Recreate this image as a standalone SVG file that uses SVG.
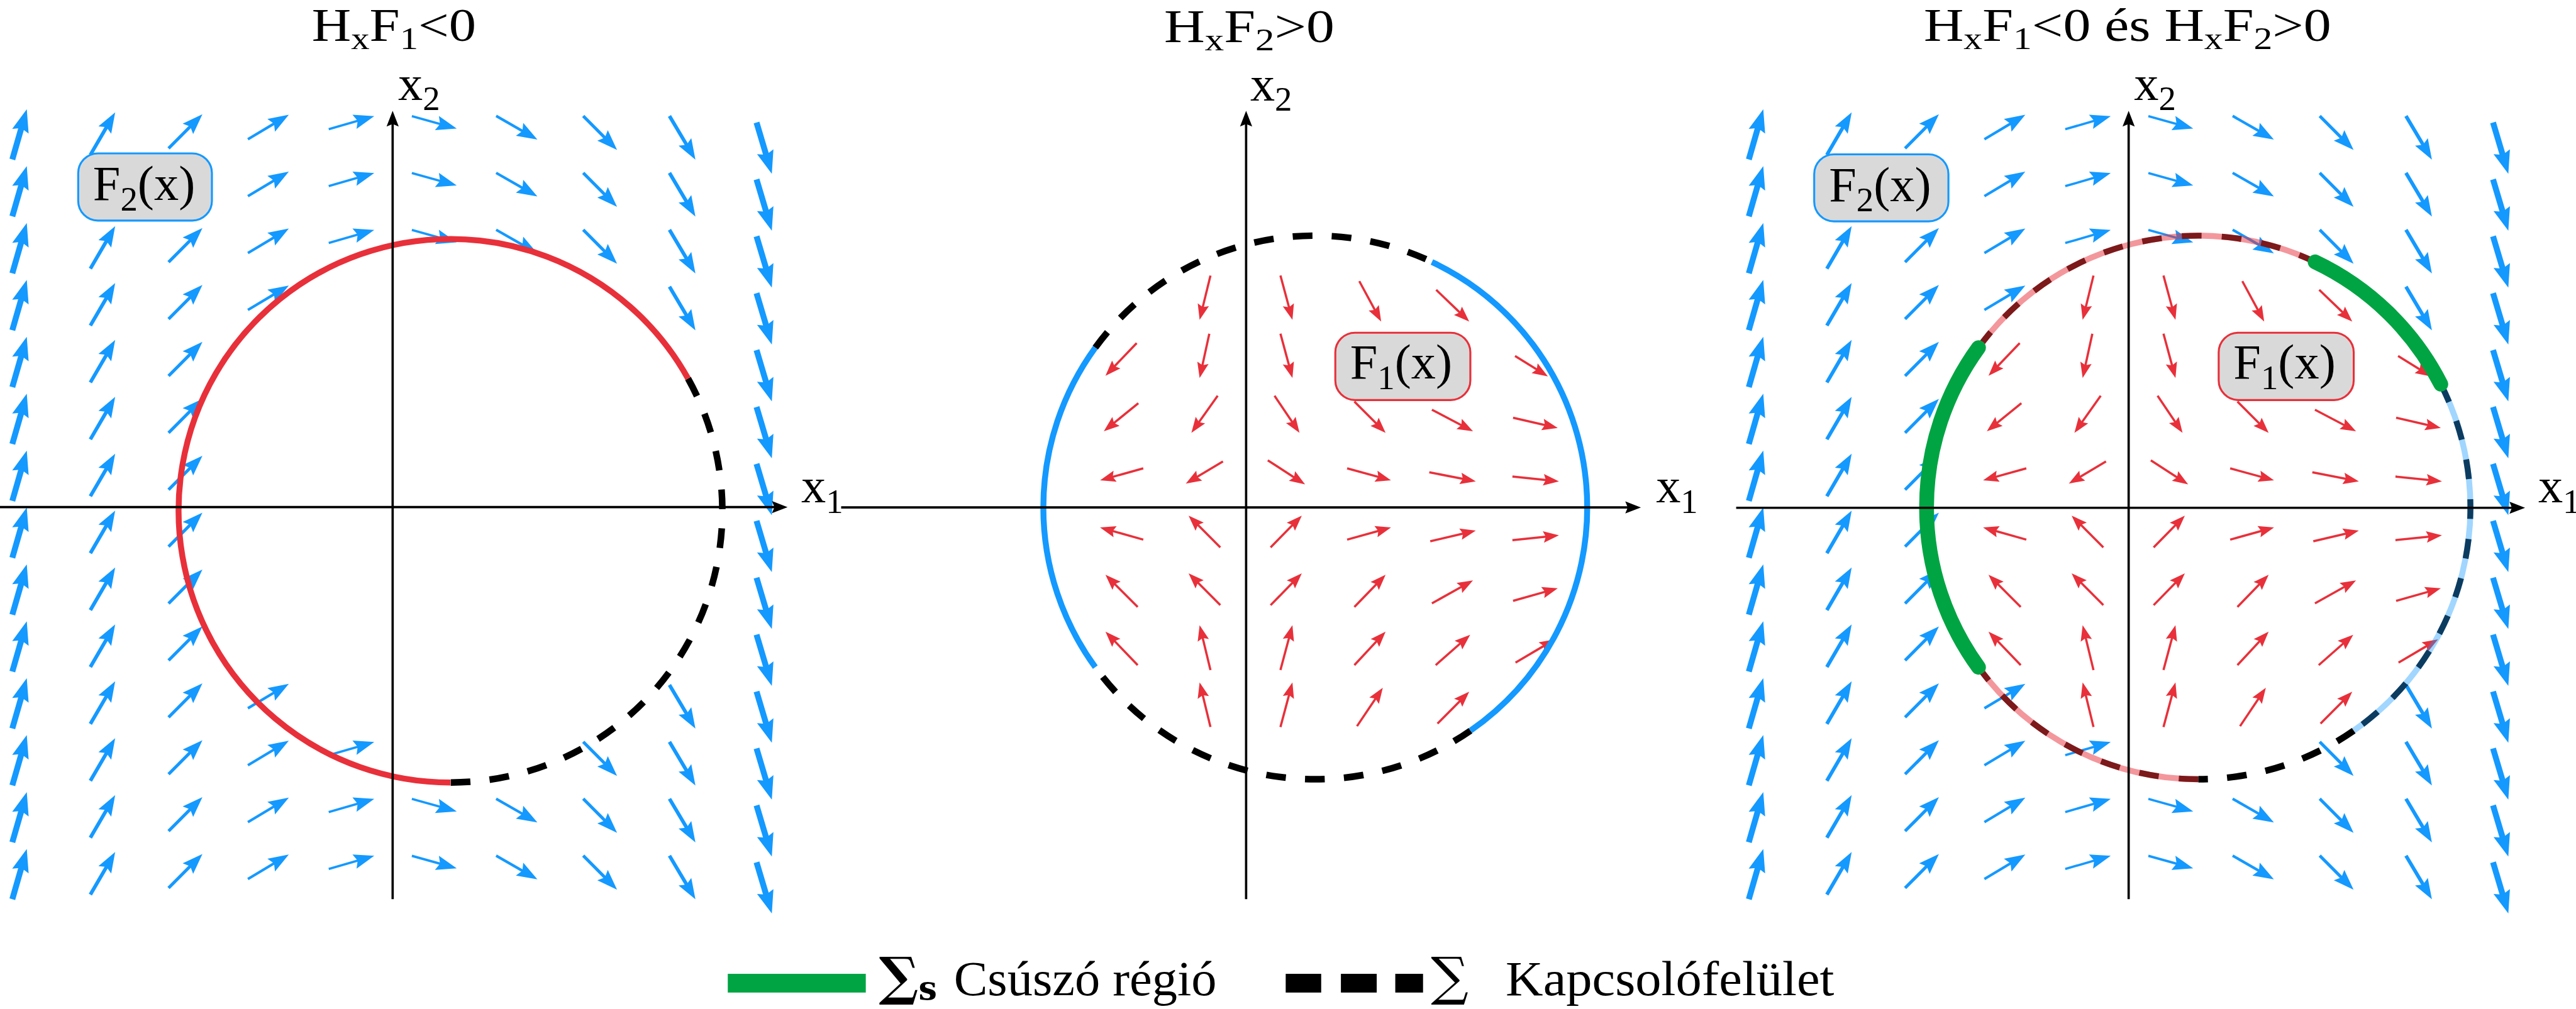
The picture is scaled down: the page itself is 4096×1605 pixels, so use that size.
<svg xmlns="http://www.w3.org/2000/svg" xmlns:xlink="http://www.w3.org/1999/xlink" width="4096" height="1605" viewBox="0 0 4096 1605">
<style>
text{font-family:"Liberation Serif","Times New Roman",serif;font-size:30px;fill:#000}
.sub{font-size:21px}
.ttl{font-size:28px}
.tsub{font-size:19px}
.bl{fill:none;stroke:#1499ff;stroke-dasharray:73 100}
.w1{stroke-width:3.6;marker-end:url(#mbL)}
.w2{stroke-width:2.2;marker-end:url(#mb)}
.w3{stroke-width:1.9;marker-end:url(#mb)}
.w4{stroke-width:1.6;marker-end:url(#mb)}
.w5{stroke-width:1.4;marker-end:url(#mb)}
.rd{fill:none;stroke:#e8303a;stroke-width:1.35;stroke-dasharray:78 100;marker-end:url(#mr)}
.ax{fill:none;stroke:#000;stroke-width:1.4;marker-end:url(#ma)}
.dash{fill:none;stroke:#000;stroke-width:4;stroke-dasharray:12 11.7}
.redarc{fill:none;stroke:#e8303a;stroke-width:3.6}
.bluearc{fill:none;stroke:#1499ff;stroke-width:3.6}
.pink{fill:none;stroke:#e8303a;stroke-opacity:0.5;stroke-width:3.6}
.maroon{fill:none;stroke:#7b191b;stroke-width:3.6;stroke-dasharray:12 12.3}
.lblue{fill:none;stroke:#1499ff;stroke-opacity:0.4;stroke-width:3.6}
.navy{fill:none;stroke:#0c3b60;stroke-width:3.6;stroke-dasharray:12 12.3}
.green{fill:none;stroke:#00a443;stroke-width:9;stroke-linecap:round}
.boxb{fill:#d9d9d9;stroke:#1499ff;stroke-width:1.2}
.boxr{fill:#d9d9d9;stroke:#e8303a;stroke-width:1.2}
.sig{font-family:"DejaVu Serif",serif;font-size:32px}
</style>
<defs>
<marker id="mb" markerUnits="userSpaceOnUse" orient="auto" markerWidth="1" markerHeight="1" refX="0" refY="0" overflow="visible"><path d="M0,0L-12.5,-4.5L-10.5,0L-12.5,4.5Z" fill="#1499ff"/></marker>
<marker id="mbL" markerUnits="userSpaceOnUse" orient="auto" markerWidth="1" markerHeight="1" refX="0" refY="0" overflow="visible"><path d="M0,0L-14,-5.2L-12,0L-14,5.2Z" fill="#1499ff"/></marker>
<marker id="mr" markerUnits="userSpaceOnUse" orient="auto" markerWidth="1" markerHeight="1" refX="0" refY="0" overflow="visible"><path d="M0,0L-9.5,-3.5L-8,0L-9.5,3.5Z" fill="#e8303a"/></marker>
<marker id="ma" markerUnits="userSpaceOnUse" orient="auto" markerWidth="1" markerHeight="1" refX="0" refY="0" overflow="visible"><path d="M5,0L-4.5,-3.7L-3,0L-4.5,3.7Z" fill="#000"/></marker>
</defs>
<rect width="4096" height="1605" fill="#fff"/>
<g transform="scale(2.612245)">
<!-- blue vector field F2 -->
<g id="bluef">
<path id="b1" class="bl w1" pathLength="100" d="M7.5,97.1L16.3,66.5"/>
<use href="#b1" y="34.65"/><use href="#b1" y="69.3"/><use href="#b1" y="103.95"/><use href="#b1" y="138.6"/><use href="#b1" y="173.25"/><use href="#b1" y="207.9"/><use href="#b1" y="242.55"/><use href="#b1" y="277.2"/><use href="#b1" y="311.85"/><use href="#b1" y="346.5"/><use href="#b1" y="381.15"/><use href="#b1" y="415.8"/><use href="#b1" y="450.45"/>
<path id="b2" class="bl w2" pathLength="100" d="M55,94.3L70.1,68.4"/>
<use href="#b2" y="34.65"/><use href="#b2" y="69.3"/><use href="#b2" y="103.95"/><use href="#b2" y="138.6"/><use href="#b2" y="173.25"/><use href="#b2" y="207.9"/><use href="#b2" y="242.55"/><use href="#b2" y="277.2"/><use href="#b2" y="311.85"/><use href="#b2" y="346.5"/><use href="#b2" y="381.15"/><use href="#b2" y="415.8"/><use href="#b2" y="450.45"/>
<path id="b3" class="bl w3" pathLength="100" d="M102.6,90.3L123.2,69.6"/>
<use href="#b3" y="34.65"/><use href="#b3" y="69.3"/><use href="#b3" y="103.95"/><use href="#b3" y="138.6"/><use href="#b3" y="173.25"/><use href="#b3" y="207.9"/><use href="#b3" y="242.55"/><use href="#b3" y="277.2"/><use href="#b3" y="311.85"/><use href="#b3" y="346.5"/><use href="#b3" y="381.15"/><use href="#b3" y="415.8"/><use href="#b3" y="450.45"/>
<path id="b4" class="bl w4" pathLength="100" d="M150.9,84.8L175.8,69.9"/>
<use href="#b4" y="34.65"/><use href="#b4" y="69.3"/><use href="#b4" y="103.95"/><use href="#b4" y="346.5"/><use href="#b4" y="381.15"/><use href="#b4" y="415.8"/><use href="#b4" y="450.45"/>
<path id="b5" class="bl w5" pathLength="100" d="M200.1,78.7L227.8,70.7"/>
<use href="#b5" y="34.65"/><use href="#b5" y="69.3"/><use href="#b5" y="381.15"/><use href="#b5" y="415.8"/><use href="#b5" y="450.45"/>
<path id="b6" class="bl w5" pathLength="100" d="M250.7,70.7L278,78.3"/>
<use href="#b6" y="34.65"/><use href="#b6" y="69.3"/><use href="#b6" y="415.8"/><use href="#b6" y="450.45"/>
<path id="b7" class="bl w4" pathLength="100" d="M302,70.6L327.1,85"/>
<use href="#b7" y="34.65"/><use href="#b7" y="69.3"/><use href="#b7" y="415.8"/><use href="#b7" y="450.45"/>
<path id="b8" class="bl w3" pathLength="100" d="M355,70.6L375.6,91.3"/>
<use href="#b8" y="34.65"/><use href="#b8" y="69.3"/><use href="#b8" y="381.15"/><use href="#b8" y="415.8"/><use href="#b8" y="450.45"/>
<path id="b9" class="bl w2" pathLength="100" d="M407.5,70.6L423.3,97.2"/>
<use href="#b9" y="34.65"/><use href="#b9" y="69.3"/><use href="#b9" y="103.95"/><use href="#b9" y="346.5"/><use href="#b9" y="381.15"/><use href="#b9" y="415.8"/><use href="#b9" y="450.45"/>
<path id="b10" class="bl w1" pathLength="100" d="M460.5,74.6L469.8,105.8"/>
<use href="#b10" y="34.65"/><use href="#b10" y="69.3"/><use href="#b10" y="103.95"/><use href="#b10" y="138.6"/><use href="#b10" y="173.25"/><use href="#b10" y="207.9"/><use href="#b10" y="242.55"/><use href="#b10" y="277.2"/><use href="#b10" y="311.85"/><use href="#b10" y="346.5"/><use href="#b10" y="381.15"/><use href="#b10" y="415.8"/><use href="#b10" y="450.45"/>
</g>
<use href="#bluef" x="1057"/>
<!-- red vector field F1 -->
<g id="redf">
<path class="rd" pathLength="100" d="M736.8,167.8L730.2,194.8"/>
<path class="rd" pathLength="100" d="M779.4,167.8L786.7,194.8"/>
<path class="rd" pathLength="100" d="M827.4,171.2L840.7,195.8"/>
<path class="rd" pathLength="100" d="M874.2,176.5L894.3,195.8"/>
<path class="rd" pathLength="100" d="M691.9,208.9L672.9,228.8"/>
<path class="rd" pathLength="100" d="M736.1,203.2L730.2,230.2"/>
<path class="rd" pathLength="100" d="M779.4,203.2L786.7,230.2"/>
<path class="rd" pathLength="100" d="M922.2,216.8L942.2,229.2"/>
<path class="rd" pathLength="100" d="M692.9,245.5L671.9,262.6"/>
<path class="rd" pathLength="100" d="M741.2,241L725.2,263.6"/>
<path class="rd" pathLength="100" d="M775.8,241L791,263.6"/>
<path class="rd" pathLength="100" d="M824.4,244.5L843.4,263.6"/>
<path class="rd" pathLength="100" d="M871.6,249.5L896.6,262.6"/>
<path class="rd" pathLength="100" d="M921,254.4L948.2,260.6"/>
<path class="rd" pathLength="100" d="M695.9,285.2L669.6,292.5"/>
<path class="rd" pathLength="100" d="M744.4,281L721.8,294.5"/>
<path class="rd" pathLength="100" d="M771.7,280.3L794.4,295"/>
<path class="rd" pathLength="100" d="M820,285.2L846.7,292.5"/>
<path class="rd" pathLength="100" d="M870,287.6L898.3,293.1"/>
<path class="rd" pathLength="100" d="M920.6,290.2L948.9,293.1"/>
<path class="rd" pathLength="100" d="M695.9,328.6L669.6,321.2"/>
<path class="rd" pathLength="100" d="M742.8,333.3L723.5,314"/>
<path class="rd" pathLength="100" d="M773.4,333.3L792.4,314"/>
<path class="rd" pathLength="100" d="M820,328.6L846.7,321.2"/>
<path class="rd" pathLength="100" d="M870.6,329.6L898.3,323.1"/>
<path class="rd" pathLength="100" d="M920.6,328.9L948.9,326"/>
<path class="rd" pathLength="100" d="M692.5,369.6L672.9,350"/>
<path class="rd" pathLength="100" d="M742.8,368.5L723.5,349.1"/>
<path class="rd" pathLength="100" d="M773.4,368.5L792.4,349.1"/>
<path class="rd" pathLength="100" d="M824.4,369.6L843.4,350"/>
<path class="rd" pathLength="100" d="M871.6,367.4L896.6,353.4"/>
<path class="rd" pathLength="100" d="M921,365.9L948.2,358.2"/>
<path class="rd" pathLength="100" d="M692.5,405L672.9,384.6"/>
<path class="rd" pathLength="100" d="M736.8,408L730.2,380.7"/>
<path class="rd" pathLength="100" d="M779.4,408L786.7,380.7"/>
<path class="rd" pathLength="100" d="M824.4,405L843.4,384.6"/>
<path class="rd" pathLength="100" d="M873.9,405L894.9,386.5"/>
<path class="rd" pathLength="100" d="M922.5,403.5L946.5,389.3"/>
<path class="rd" pathLength="100" d="M736.8,442.7L730.2,415.5"/>
<path class="rd" pathLength="100" d="M779.4,442.7L786.7,415.5"/>
<path class="rd" pathLength="100" d="M826,442.2L841.7,418.8"/>
<path class="rd" pathLength="100" d="M875,440.6L894.3,421.2"/>
</g>
<use href="#redf" x="537.5"/>
<!-- boundary curves -->
<g id="curve-left">
<path class="dash" d="M418.8,230.5A165.5,165.5 0 0 1 274.2,476.5"/>
<path class="redarc" d="M274.2,476.5A165.5,165.5 0 1 1 418.8,230.5"/>
</g>
<g id="curve-middle">
<path class="dash" d="M666.7,211.7A165.5,165.5 0 0 1 871.6,159.5"/>
<path class="dash" d="M895.1,444.9A165.5,165.5 0 0 1 666.7,406.3"/>
<path class="bluearc" d="M666.7,406.3A165.5,165.5 0 0 1 666.7,211.7"/>
<path class="bluearc" d="M871.6,159.5A165.5,165.5 0 0 1 895.1,444.9"/>
</g>
<g id="curve-right">
<path class="pink" d="M1204.3,211.7A165.5,165.5 0 0 1 1409.2,159.5"/>
<path class="maroon" d="M1204.3,211.7A165.5,165.5 0 0 1 1409.2,159.5"/>
<path class="pink" d="M1338.2,474.5A165.5,165.5 0 0 1 1204.3,406.3"/>
<path class="maroon" d="M1338.2,474.5A165.5,165.5 0 0 1 1204.3,406.3"/>
<path class="lblue" d="M1485.7,233.9A165.5,165.5 0 0 1 1432.7,444.9"/>
<path class="navy" d="M1485.7,233.9A165.5,165.5 0 0 1 1432.7,444.9"/>
<path class="dash" d="M1432.7,444.9A165.5,165.5 0 0 1 1338.2,474.5"/>
<path class="green" d="M1204.3,406.3A165.5,165.5 0 0 1 1204.3,211.7"/>
<path class="green" d="M1409.2,159.5A165.5,165.5 0 0 1 1485.7,233.9"/>
</g>
<!-- axes -->
<g id="axes">
<path class="ax" d="M0,308.8L474.4,308.8"/>
<path class="ax" d="M239,547.5L239,72.5"/>
<path class="ax" d="M512,309L993.8,309"/>
<path class="ax" d="M758.5,547.5L758.5,72.5"/>
<path class="ax" d="M1056.8,309.2L1532,309.2"/>
<path class="ax" d="M1295.7,547.5L1295.7,72.5"/>
</g>
<!-- labels -->
<g id="label-F2-left"><rect class="boxb" x="47.6" y="93.4" width="81.4" height="40.9" rx="12"/>
<text x="56.6" y="121.9">F<tspan class="sub" dy="6.3">2</tspan><tspan dy="-6.3">(x)</tspan></text></g>
<g id="label-F2-right"><rect class="boxb" x="1104.3" y="94" width="81.7" height="40.8" rx="12"/>
<text x="1113.3" y="122.4">F<tspan class="sub" dy="6.3">2</tspan><tspan dy="-6.3">(x)</tspan></text></g>
<g id="label-F1-middle"><rect class="boxr" x="812.8" y="202.6" width="82.2" height="41" rx="12"/>
<text x="821.8" y="230.6">F<tspan class="sub" dy="6.3">1</tspan><tspan dy="-6.3">(x)</tspan></text></g>
<g id="label-F1-right"><rect class="boxr" x="1350.5" y="202.6" width="82.2" height="41" rx="12"/>
<text x="1359.5" y="230.6">F<tspan class="sub" dy="6.3">1</tspan><tspan dy="-6.3">(x)</tspan></text></g>
<g id="titles">
<text class="ttl" x="189.8" y="25" textLength="100" lengthAdjust="spacingAndGlyphs">H<tspan class="tsub" dy="5">x</tspan><tspan dy="-5">F</tspan><tspan class="tsub" dy="5">1</tspan><tspan dy="-5">&lt;0</tspan></text>
<text class="ttl" x="708.6" y="25.5" textLength="103.7" lengthAdjust="spacingAndGlyphs">H<tspan class="tsub" dy="5">x</tspan><tspan dy="-5">F</tspan><tspan class="tsub" dy="5">2</tspan><tspan dy="-5">&gt;0</tspan></text>
<text class="ttl" x="1171" y="25" textLength="248" lengthAdjust="spacingAndGlyphs">H<tspan class="tsub" dy="5">x</tspan><tspan dy="-5">F</tspan><tspan class="tsub" dy="5">1</tspan><tspan dy="-5">&lt;0 és H</tspan><tspan class="tsub" dy="5">x</tspan><tspan dy="-5">F</tspan><tspan class="tsub" dy="5">2</tspan><tspan dy="-5">&gt;0</tspan></text>
</g>
<g id="axis-labels">
<text x="242.3" y="61">x<tspan class="sub" dy="6">2</tspan></text>
<text x="761" y="61.3">x<tspan class="sub" dy="6">2</tspan></text>
<text x="1299" y="61">x<tspan class="sub" dy="6">2</tspan></text>
<text x="487.7" y="306">x<tspan class="sub" dy="6.3">1</tspan></text>
<text x="1008" y="306">x<tspan class="sub" dy="6.3">1</tspan></text>
<text x="1545" y="306">x<tspan class="sub" dy="6.3">1</tspan></text>
</g>
<g id="legend">
<rect x="443" y="593" width="84" height="11.4" fill="#00a443"/>
<text x="535" y="605.5"><tspan class="sig" font-weight="bold">∑</tspan><tspan font-family="DejaVu Serif" font-weight="bold" font-size="20" dy="3.3">s</tspan></text>
<text x="580.6" y="606" font-size="30.5" textLength="160" lengthAdjust="spacingAndGlyphs">Csúszó régió</text>
<rect x="782.6" y="593" width="21.6" height="11.4"/>
<rect x="816.2" y="593" width="21.8" height="11.4"/>
<rect x="849.3" y="593" width="16.9" height="11.4"/>
<text class="sig" x="871" y="605.5">∑</text>
<text x="916.5" y="606" font-size="30.5" textLength="200" lengthAdjust="spacingAndGlyphs">Kapcsolófelület</text>
</g>
</g>
</svg>
